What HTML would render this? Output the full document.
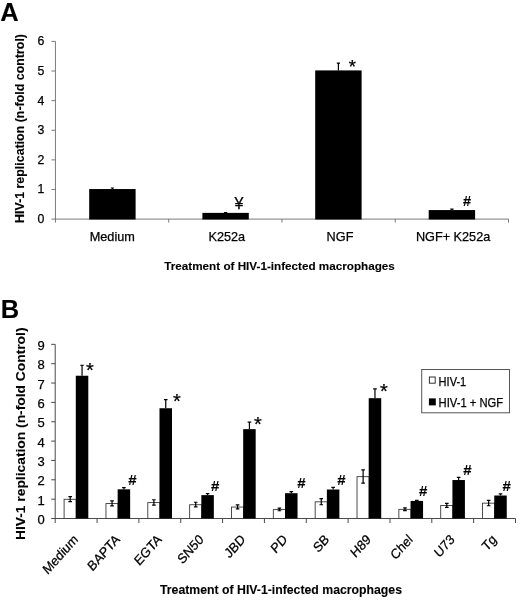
<!DOCTYPE html>
<html lang="en">
<head>
<meta charset="utf-8">
<title>HIV-1 replication figure</title>
<style>
html,body{margin:0;padding:0;background:#fff;}
body{width:520px;height:600px;overflow:hidden;}
svg{display:block;filter:grayscale(1);}
svg text{font-family:"Liberation Sans", Arial, Helvetica, sans-serif;fill:#000;stroke:#000;stroke-width:0.25px;}
.b{font-weight:bold;stroke-width:0.1px;}
</style>
</head>
<body>
<svg width="520" height="600" viewBox="0 0 520 600">
<rect x="0" y="0" width="520" height="600" fill="#ffffff"/>
<!-- Panel A -->
<text x="0.2" y="20.7" font-size="25.5" text-anchor="start" class="b">A</text>
<text transform="translate(23.7,223) rotate(-90)" font-size="12.3" textLength="189" lengthAdjust="spacingAndGlyphs" class="b">HIV-1 replication (n-fold control)</text>
<g stroke="#6c6c6c" stroke-width="0.9" fill="none">
<line x1="55.45" y1="41.38" x2="55.45" y2="222.6"/>
<line x1="51.45" y1="219.1" x2="508.5" y2="219.1"/>
<line x1="51.45" y1="189.48" x2="55.45" y2="189.48"/>
<line x1="51.45" y1="159.86" x2="55.45" y2="159.86"/>
<line x1="51.45" y1="130.24" x2="55.45" y2="130.24"/>
<line x1="51.45" y1="100.62" x2="55.45" y2="100.62"/>
<line x1="51.45" y1="71.0" x2="55.45" y2="71.0"/>
<line x1="51.45" y1="41.38" x2="55.45" y2="41.38"/>
<line x1="168.71" y1="219.1" x2="168.71" y2="222.6"/>
<line x1="281.98" y1="219.1" x2="281.98" y2="222.6"/>
<line x1="395.24" y1="219.1" x2="395.24" y2="222.6"/>
<line x1="508.5" y1="219.1" x2="508.5" y2="222.6"/>
</g>
<text x="44.4" y="223.0" font-size="12.3" text-anchor="end">0</text>
<text x="44.4" y="193.38" font-size="12.3" text-anchor="end">1</text>
<text x="44.4" y="163.76" font-size="12.3" text-anchor="end">2</text>
<text x="44.4" y="134.14" font-size="12.3" text-anchor="end">3</text>
<text x="44.4" y="104.52" font-size="12.3" text-anchor="end">4</text>
<text x="44.4" y="74.9" font-size="12.3" text-anchor="end">5</text>
<text x="44.4" y="45.28" font-size="12.3" text-anchor="end">6</text>
<rect x="89.2" y="189.04" width="46.4" height="30.46" fill="#000"/>
<path d="M112.4 189.04V188.0M110.80000000000001 188.0H114.0" stroke="#000" stroke-width="1.2" fill="none"/>
<text x="112.3" y="241.2" font-size="12.7" text-anchor="middle">Medium</text>
<rect x="202.4" y="212.88" width="46.4" height="6.62" fill="#000"/>
<path d="M225.6 212.88V212.52M224.0 212.52H227.2" stroke="#000" stroke-width="1.2" fill="none"/>
<text x="226.8" y="241.2" font-size="12.7" text-anchor="middle">K252a</text>
<rect x="315.2" y="70.41" width="46.4" height="149.09" fill="#000"/>
<path d="M338.4 70.41V63.15M336.79999999999995 63.15H340.0" stroke="#000" stroke-width="1.2" fill="none"/>
<text x="340.0" y="241.2" font-size="12.7" text-anchor="middle">NGF</text>
<rect x="428.7" y="210.07" width="46.4" height="9.43" fill="#000"/>
<path d="M451.9 210.07V209.18M450.29999999999995 209.18H453.5" stroke="#000" stroke-width="1.2" fill="none"/>
<text x="453.1" y="241.2" font-size="12.7" text-anchor="middle">NGF+ K252a</text>
<text x="234.5" y="208.8" font-size="16" text-anchor="start">¥</text>
<text x="348.7" y="72.6" font-size="18.5" text-anchor="start">*</text>
<text x="462.9" y="205.9" font-size="14.5" text-anchor="start" class="b">#</text>
<text x="164.3" y="270.2" font-size="11.7" text-anchor="start" class="b" textLength="230.5" lengthAdjust="spacingAndGlyphs">Treatment of HIV-1-infected macrophages</text>
<!-- Panel B -->
<text x="0.8" y="318.3" font-size="25.5" text-anchor="start" class="b">B</text>
<text transform="translate(24.6,540) rotate(-90)" font-size="12.5" textLength="212.5" lengthAdjust="spacingAndGlyphs" class="b">HIV-1 replication (n-fold Control)</text>
<g stroke="#4a4a4a" stroke-width="1" fill="none">
<line x1="55.2" y1="344.35" x2="55.2" y2="523.0"/>
<line x1="51.2" y1="518.5" x2="515.5" y2="518.5"/>
<line x1="51.2" y1="499.15" x2="55.2" y2="499.15"/>
<line x1="51.2" y1="479.8" x2="55.2" y2="479.8"/>
<line x1="51.2" y1="460.45" x2="55.2" y2="460.45"/>
<line x1="51.2" y1="441.1" x2="55.2" y2="441.1"/>
<line x1="51.2" y1="421.75" x2="55.2" y2="421.75"/>
<line x1="51.2" y1="402.4" x2="55.2" y2="402.4"/>
<line x1="51.2" y1="383.05" x2="55.2" y2="383.05"/>
<line x1="51.2" y1="363.7" x2="55.2" y2="363.7"/>
<line x1="51.2" y1="344.35" x2="55.2" y2="344.35"/>
<line x1="97.05" y1="518.5" x2="97.05" y2="523.0"/>
<line x1="138.89" y1="518.5" x2="138.89" y2="523.0"/>
<line x1="180.74" y1="518.5" x2="180.74" y2="523.0"/>
<line x1="222.58" y1="518.5" x2="222.58" y2="523.0"/>
<line x1="264.43" y1="518.5" x2="264.43" y2="523.0"/>
<line x1="306.27" y1="518.5" x2="306.27" y2="523.0"/>
<line x1="348.12" y1="518.5" x2="348.12" y2="523.0"/>
<line x1="389.96" y1="518.5" x2="389.96" y2="523.0"/>
<line x1="431.81" y1="518.5" x2="431.81" y2="523.0"/>
<line x1="473.65" y1="518.5" x2="473.65" y2="523.0"/>
<line x1="515.5" y1="518.5" x2="515.5" y2="523.0"/>
</g>
<text x="44.7" y="524.0" font-size="13" text-anchor="end">0</text>
<text x="44.7" y="504.65" font-size="13" text-anchor="end">1</text>
<text x="44.7" y="485.3" font-size="13" text-anchor="end">2</text>
<text x="44.7" y="465.95" font-size="13" text-anchor="end">3</text>
<text x="44.7" y="446.6" font-size="13" text-anchor="end">4</text>
<text x="44.7" y="427.25" font-size="13" text-anchor="end">5</text>
<text x="44.7" y="407.9" font-size="13" text-anchor="end">6</text>
<text x="44.7" y="388.55" font-size="13" text-anchor="end">7</text>
<text x="44.7" y="369.2" font-size="13" text-anchor="end">8</text>
<text x="44.7" y="349.85" font-size="13" text-anchor="end">9</text>
<rect x="64.1" y="499.3" width="12.1" height="19.2" fill="#fff" stroke="#3a3a3a" stroke-width="0.9"/>
<rect x="75.8" y="375.73" width="12.5" height="142.77" fill="#000"/>
<path d="M70.2 496.63V501.67M68.4 496.63H72.0M68.4 501.67H72.0" stroke="#000" stroke-width="1.2" fill="none"/>
<path d="M82.05 375.73V365.25M80.25 365.25H83.85" stroke="#000" stroke-width="1.2" fill="none"/>
<text x="86.1" y="377.2" font-size="20" text-anchor="start">*</text>
<text transform="translate(78.72,540.3) scale(1,1.12) rotate(-45)" font-size="12.35" text-anchor="end">Medium</text>
<rect x="105.95" y="503.56" width="12.1" height="14.94" fill="#fff" stroke="#3a3a3a" stroke-width="0.9"/>
<rect x="117.65" y="489.32" width="12.5" height="29.18" fill="#000"/>
<path d="M112.05 500.89V505.92M110.25 500.89H113.85M110.25 505.92H113.85" stroke="#000" stroke-width="1.2" fill="none"/>
<path d="M123.9 489.32V487.54M122.10000000000001 487.54H125.7" stroke="#000" stroke-width="1.2" fill="none"/>
<text x="128.2" y="484.5" font-size="15" text-anchor="start" class="b">#</text>
<text transform="translate(120.57,540.3) scale(1,1.12) rotate(-45)" font-size="12.35" text-anchor="end">BAPTA</text>
<rect x="147.79" y="502.59" width="12.1" height="15.91" fill="#fff" stroke="#3a3a3a" stroke-width="0.9"/>
<rect x="159.49" y="408.24" width="12.5" height="110.26" fill="#000"/>
<path d="M153.89 499.73V505.15M152.08999999999997 499.73H155.69M152.08999999999997 505.15H155.69" stroke="#000" stroke-width="1.2" fill="none"/>
<path d="M165.74 408.24V399.69M163.94 399.69H167.54000000000002" stroke="#000" stroke-width="1.2" fill="none"/>
<text x="173.1" y="407.7" font-size="20" text-anchor="start">*</text>
<text transform="translate(162.41,540.3) scale(1,1.12) rotate(-45)" font-size="12.35" text-anchor="end">EGTA</text>
<rect x="189.64" y="504.72" width="12.1" height="13.78" fill="#fff" stroke="#3a3a3a" stroke-width="0.9"/>
<rect x="201.34" y="495.12" width="12.5" height="23.38" fill="#000"/>
<path d="M195.74 502.25V506.89M193.94 502.25H197.54000000000002M193.94 506.89H197.54000000000002" stroke="#000" stroke-width="1.2" fill="none"/>
<path d="M207.59 495.12V493.54M205.79 493.54H209.39000000000001" stroke="#000" stroke-width="1.2" fill="none"/>
<text x="210.9" y="490.75" font-size="15" text-anchor="start" class="b">#</text>
<text transform="translate(204.26,540.3) scale(1,1.12) rotate(-45)" font-size="12.35" text-anchor="end">SN50</text>
<rect x="231.48" y="507.04" width="12.1" height="11.46" fill="#fff" stroke="#3a3a3a" stroke-width="0.9"/>
<rect x="243.18" y="429.14" width="12.5" height="89.36" fill="#000"/>
<path d="M237.58 504.95V508.82M235.78 504.95H239.38000000000002M235.78 508.82H239.38000000000002" stroke="#000" stroke-width="1.2" fill="none"/>
<path d="M249.43 429.14V422.14M247.63 422.14H251.23000000000002" stroke="#000" stroke-width="1.2" fill="none"/>
<text x="254.1" y="430.7" font-size="20" text-anchor="start">*</text>
<text transform="translate(246.1,540.3) scale(1,1.12) rotate(-45)" font-size="12.35" text-anchor="end">JBD</text>
<rect x="273.33" y="509.56" width="12.1" height="8.94" fill="#fff" stroke="#3a3a3a" stroke-width="0.9"/>
<rect x="285.03" y="493.19" width="12.5" height="25.31" fill="#000"/>
<path d="M279.43 508.05V510.76M277.63 508.05H281.23M277.63 510.76H281.23" stroke="#000" stroke-width="1.2" fill="none"/>
<path d="M291.28 493.19V491.6M289.47999999999996 491.6H293.08" stroke="#000" stroke-width="1.2" fill="none"/>
<text x="297.2" y="488.25" font-size="15" text-anchor="start" class="b">#</text>
<text transform="translate(287.95,540.3) scale(1,1.12) rotate(-45)" font-size="12.35" text-anchor="end">PD</text>
<rect x="315.17" y="501.82" width="12.1" height="16.68" fill="#fff" stroke="#3a3a3a" stroke-width="0.9"/>
<rect x="326.87" y="489.51" width="12.5" height="28.99" fill="#000"/>
<path d="M321.27 498.57V504.76M319.46999999999997 498.57H323.07M319.46999999999997 504.76H323.07" stroke="#000" stroke-width="1.2" fill="none"/>
<path d="M333.12 489.51V487.35M331.32 487.35H334.92" stroke="#000" stroke-width="1.2" fill="none"/>
<text x="337.2" y="484.5" font-size="15" text-anchor="start" class="b">#</text>
<text transform="translate(329.8,540.3) scale(1,1.12) rotate(-45)" font-size="12.35" text-anchor="end">SB</text>
<rect x="357.02" y="476.66" width="12.1" height="41.84" fill="#fff" stroke="#3a3a3a" stroke-width="0.9"/>
<rect x="368.72" y="398.18" width="12.5" height="120.32" fill="#000"/>
<path d="M363.12 469.93V483.09M361.32 469.93H364.92M361.32 483.09H364.92" stroke="#000" stroke-width="1.2" fill="none"/>
<path d="M374.97 398.18V388.86M373.17 388.86H376.77000000000004" stroke="#000" stroke-width="1.2" fill="none"/>
<text x="380.05" y="398.3" font-size="20" text-anchor="start">*</text>
<text transform="translate(371.64,540.3) scale(1,1.12) rotate(-45)" font-size="12.35" text-anchor="end">H89</text>
<rect x="398.86" y="509.36" width="12.1" height="9.14" fill="#fff" stroke="#3a3a3a" stroke-width="0.9"/>
<rect x="410.56" y="500.93" width="12.5" height="17.57" fill="#000"/>
<path d="M404.96 507.86V510.57M403.15999999999997 507.86H406.76M403.15999999999997 510.57H406.76" stroke="#000" stroke-width="1.2" fill="none"/>
<path d="M416.81 500.93V500.31M415.01 500.31H418.61" stroke="#000" stroke-width="1.2" fill="none"/>
<text x="419" y="495.5" font-size="15" text-anchor="start" class="b">#</text>
<text transform="translate(413.49,540.3) scale(1,1.12) rotate(-45)" font-size="12.35" text-anchor="end">Chel</text>
<rect x="440.71" y="505.49" width="12.1" height="13.01" fill="#fff" stroke="#3a3a3a" stroke-width="0.9"/>
<rect x="452.41" y="480.03" width="12.5" height="38.47" fill="#000"/>
<path d="M446.81 503.41V507.28M445.01 503.41H448.61M445.01 507.28H448.61" stroke="#000" stroke-width="1.2" fill="none"/>
<path d="M458.66 480.03V477.28M456.86 477.28H460.46000000000004" stroke="#000" stroke-width="1.2" fill="none"/>
<text x="463.2" y="475" font-size="15" text-anchor="start" class="b">#</text>
<text transform="translate(455.33,540.3) scale(1,1.12) rotate(-45)" font-size="12.35" text-anchor="end">U73</text>
<rect x="482.55" y="503.17" width="12.1" height="15.33" fill="#fff" stroke="#3a3a3a" stroke-width="0.9"/>
<rect x="494.25" y="495.51" width="12.5" height="22.99" fill="#000"/>
<path d="M488.65 500.31V505.73M486.84999999999997 500.31H490.45M486.84999999999997 505.73H490.45" stroke="#000" stroke-width="1.2" fill="none"/>
<path d="M500.5 495.51V493.93M498.7 493.93H502.3" stroke="#000" stroke-width="1.2" fill="none"/>
<text x="502.4" y="490.75" font-size="15" text-anchor="start" class="b">#</text>
<text transform="translate(497.18,540.3) scale(1,1.12) rotate(-45)" font-size="12.35" text-anchor="end">Tg</text>
<rect x="421.7" y="369.5" width="87.8" height="43.3" fill="#fff" stroke="#555" stroke-width="1"/>
<rect x="429.4" y="377" width="5.8" height="6.2" fill="#fff" stroke="#333" stroke-width="1"/>
<rect x="428.9" y="398.4" width="6.9" height="7" fill="#000"/>
<text x="438.6" y="385.5" font-size="12.3" text-anchor="start" textLength="27.6" lengthAdjust="spacingAndGlyphs">HIV-1</text>
<text x="438.6" y="407.1" font-size="12.3" text-anchor="start" textLength="64.6" lengthAdjust="spacingAndGlyphs">HIV-1 + NGF</text>
<text x="160" y="594.1" font-size="13" text-anchor="start" class="b" textLength="242" lengthAdjust="spacingAndGlyphs">Treatment of HIV-1-infected macrophages</text>
</svg>
</body>
</html>
